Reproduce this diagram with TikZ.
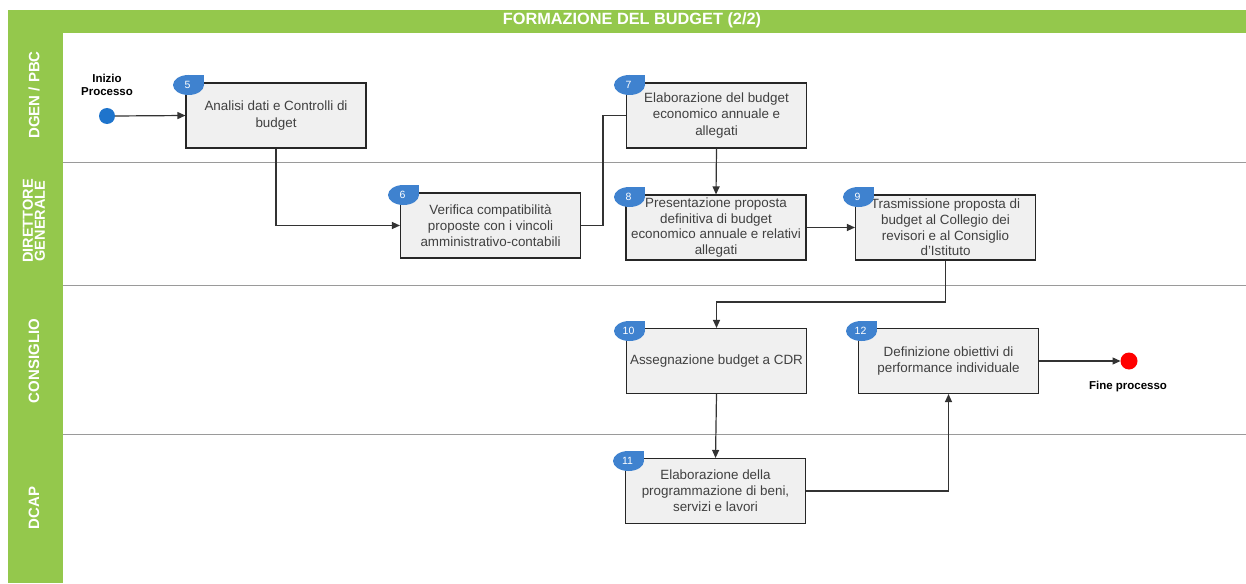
\documentclass[tikz,border=0pt]{standalone}
\usepackage{fontspec}
\setmainfont{Liberation Sans}
\usetikzlibrary{arrows.meta}
\definecolor{lanegreen}{HTML}{94C84C}
\definecolor{badgeblue}{HTML}{3F82CF}
\definecolor{startblue}{HTML}{1E74CC}
\definecolor{txtgray}{HTML}{404040}
\definecolor{boxfill}{HTML}{F0F0F0}
\definecolor{sepgray}{HTML}{9A9A9A}
\tikzset{
  box/.style={draw=black!85, line width=1.1pt, fill=boxfill, minimum width=180pt, minimum height=65pt,
    align=center, text=txtgray, font=\fontsize{13.4}{16.2}\selectfont, inner sep=1pt},
  conn/.style={draw=black!80, line width=1.2pt},
  arr/.style={conn, -{Triangle[length=8pt,width=7pt]}},
  lanelbl/.style={rotate=90, text=white, font=\bfseries\fontsize{15}{13}\selectfont, align=center},
  badgetxt/.style={text=white, font=\fontsize{10.5}{10}\selectfont},
  evlbl/.style={font=\bfseries\fontsize{11.5}{13}\selectfont, align=center, text=black}
}
\newcommand{\badge}[3]{% x0,y0 = top-left of box, #3 = number
  \fill[badgeblue] (#1+2.5,#2+2) ellipse [x radius=15.5, y radius=10];
  \fill[badgeblue] (#1+2.5,#2+2) rectangle (#1+18,#2-8);
  \node[badgetxt] at (#1+1.5,#2+2) {#3};
}
\begin{document}
\begin{tikzpicture}[x=1pt,y=-1pt]
\useasboundingbox (0,0) rectangle (1246,583);
\fill[white] (0,0) rectangle (1246,583);
% frame
\fill[lanegreen] (8,10) rectangle (1246,33);
\fill[lanegreen] (8,10) rectangle (63,583);
\node[text=white, font=\bfseries\fontsize{16.3}{17}\selectfont] (title) at (632,20) {FORMAZIONE DEL BUDGET (2/2)};
% separators
\draw[sepgray, line width=1pt] (63,162) -- (1246,162);
\draw[sepgray, line width=1pt] (63,285) -- (1246,285);
\draw[sepgray, line width=1pt] (63,434) -- (1246,434);
% lane labels
\node[lanelbl] (l1) at (34,95) {DGEN / PBC};
\node[lanelbl, font=\bfseries\fontsize{14.5}{12}\selectfont] (l2) at (34,221) {DIRETTORE\\GENERALE};
\node[lanelbl] (l3) at (34,361) {CONSIGLIO};
\node[lanelbl] (l4) at (34,508) {DCAP};
% events
\fill[startblue] (107,116) circle (8);
\coordinate (start) at (115,116);
\node[evlbl] (startlbl) at (107,85) {Inizio\\Processo};
\fill[red] (1129,361) circle (8.5);
\coordinate (end) at (1120.5,361);
\node[evlbl] (endlbl) at (1128,387) {Fine processo};
% boxes
\node[box] (n5) at (276,115.5) {Analisi dati e Controlli di\\budget};
\node[box] (n6) at (490.5,225.5) {Verifica compatibilità\\proposte con i vincoli\\amministrativo-contabili};
\node[box] (n7) at (716.5,115.5) {Elaborazione del budget\\economico annuale e\\allegati};
\node[box, font=\fontsize{13.4}{15.7}\selectfont] (n8) at (716,227.5) {Presentazione proposta\\definitiva di budget\\economico annuale e relativi\\allegati};
\node[box, font=\fontsize{13.4}{15.7}\selectfont] (n9) at (945.5,227.5) {Trasmissione proposta di\\budget al Collegio dei\\revisori e al Consiglio\\d'Istituto};
\node[box] (n10) at (716.5,361) {Assegnazione budget a CDR};
\node[box] (n12) at (948.5,361) {Definizione obiettivi di\\performance individuale};
\node[box] (n11) at (715.5,491) {Elaborazione della\\programmazione di beni,\\servizi e lavori};
% badges
\badge{186}{83}{5}
\badge{401}{193}{6}
\badge{627}{83}{7}
\badge{627}{195}{8}
\badge{856}{195}{9}
\badge{627}{329}{10}
\badge{859}{329}{12}
\badge{626}{459}{11}
% connectors
\draw[arr] (start) -- (n5.west);
\draw[arr] (n5.south) |- (n6.west);
\draw[conn] (n6.east) -- (603,225.5) |- (n7.west);
\draw[arr] (n7.south) -- (n8.north);
\draw[arr] (n8.east) -- (n9.west);
\draw[arr] (n9.south) -- (945.5,302) -| (n10.north);
\draw[arr] (n10.south) -- (n11.north);
\draw[arr] (n11.east) -| (n12.south);
\draw[arr] (n12.east) -- (end);
\end{tikzpicture}
\end{document}
